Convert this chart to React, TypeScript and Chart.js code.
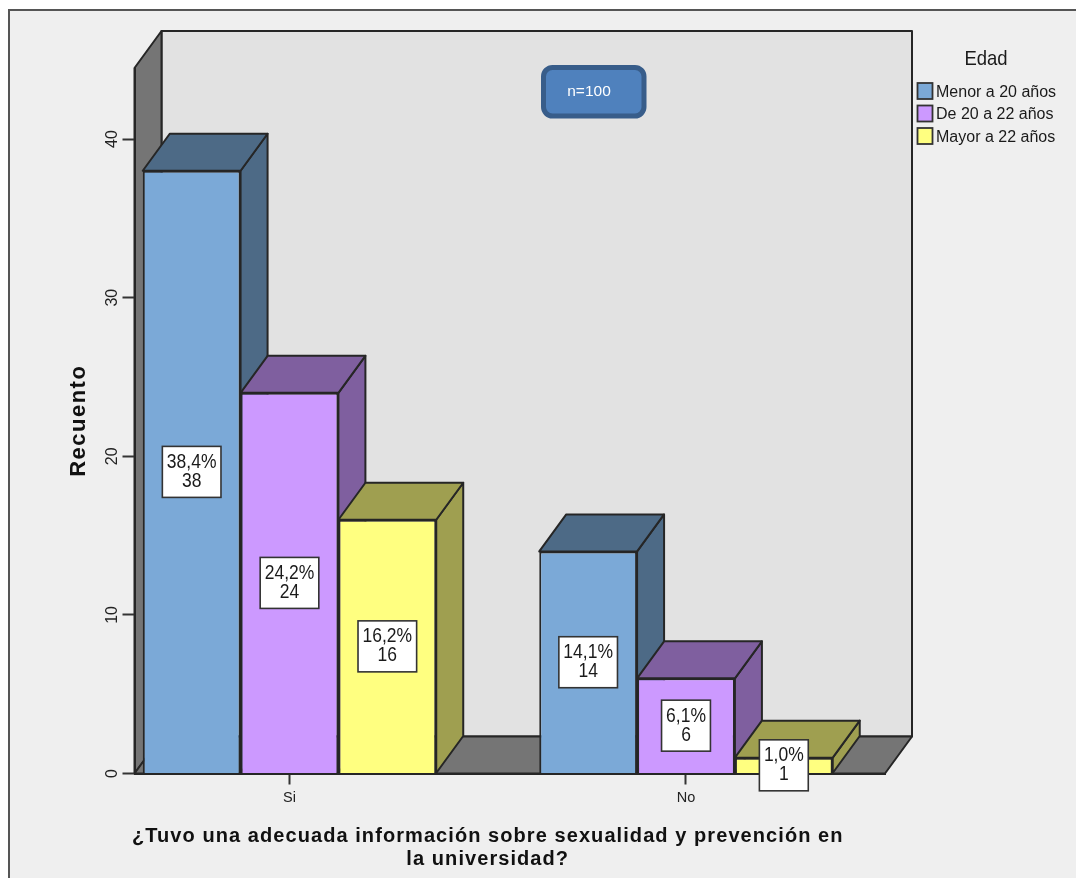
import React, { useEffect, useRef } from "react";
import { Chart, registerables } from "chart.js";

Chart.register(...registerables);

// Survey counts by answer and age group.
const categories = ["Si", "No"];
const categoryPositions = [0, 1];
const seriesNames = ["Menor a 20 años", "De 20 a 22 años", "Mayor a 22 años"];
const menorA20 = [38, 14];
const de20a22 = [24, 6];
const mayorA22 = [16, 1];
const menorA20Pct = ["38,4%", "14,1%"];
const de20a22Pct = ["24,2%", "6,1%"];
const mayorA22Pct = ["16,2%", "1,0%"];
const yTicks = [0, 10, 20, 30, 40];
const yTitle = "Recuento";
const xTitleLines = [
  "¿Tuvo una adecuada información sobre sexualidad y prevención en",
  "la universidad?",
];
const legendTitle = "Edad";
const noteText = "n=100";

// Face colours: front, and the darker top/side of each block.
const fronts = ["#7ba9d7", "#cc99ff", "#ffff80"];
const shades = ["#4d6a86", "#7f5f9f", "#9f9f50"];
const seriesValues = [menorA20, de20a22, mayorA22];
const seriesPct = [menorA20Pct, de20a22Pct, mayorA22Pct];

const INK = "#262626";
const PANEL = "#efefef";
const WALL = "#e2e2e2";
const SIDE = "#757575";
const DX = 27;
const DY = 37;
const FONT = "'Liberation Sans', Arial, sans-serif";

function poly(ctx: CanvasRenderingContext2D, pts: number[][], fill: string) {
  ctx.beginPath();
  pts.forEach(([x, y], i) => (i ? ctx.lineTo(x, y) : ctx.moveTo(x, y)));
  ctx.closePath();
  ctx.fillStyle = fill;
  ctx.fill();
  ctx.lineWidth = 2;
  ctx.strokeStyle = INK;
  ctx.lineJoin = "round";
  ctx.stroke();
}

// Text drawn slightly taller than the font's natural proportions.
function tallText(ctx: CanvasRenderingContext2D, text: string, x: number, y: number, stretch: number) {
  ctx.save();
  ctx.translate(x, y);
  ctx.scale(1, stretch);
  ctx.fillText(text, 0, 0);
  ctx.restore();
}

// Panel, frame and the three walls of the box behind the bars.
const roomPlugin = {
  id: "room",
  beforeDraw(chart: any) {
    const { ctx, chartArea: a } = chart;
    ctx.save();
    ctx.fillStyle = "#ffffff";
    ctx.fillRect(0, 0, chart.width, chart.height);
    ctx.fillStyle = PANEL;
    ctx.fillRect(9, 10, chart.width, chart.height);
    ctx.strokeStyle = "#555555";
    ctx.lineWidth = 2;
    ctx.beginPath();
    ctx.moveTo(9, chart.height);
    ctx.lineTo(9, 10);
    ctx.lineTo(chart.width, 10);
    ctx.stroke();

    poly(ctx, [[a.left + DX, a.top - DY], [a.right + DX, a.top - DY], [a.right + DX, a.bottom - DY], [a.left + DX, a.bottom - DY]], WALL);
    poly(ctx, [[a.left, a.top], [a.left + DX, a.top - DY], [a.left + DX, a.bottom - DY], [a.left, a.bottom]], SIDE);
    poly(ctx, [[a.left, a.bottom], [a.left + DX, a.bottom - DY], [a.right + DX, a.bottom - DY], [a.right, a.bottom]], SIDE);
    ctx.restore();
  },
};

// Top and side faces of each block, taken from the bar elements.
const depthPlugin = {
  id: "depth",
  beforeDatasetsDraw(chart: any) {
    const { ctx } = chart;
    ctx.save();
    chart.data.datasets.forEach((_: any, d: number) => {
      chart.getDatasetMeta(d).data.forEach((bar: any) => {
        const l = bar.x - bar.width / 2;
        const r = bar.x + bar.width / 2;
        poly(ctx, [[r, bar.y], [r + DX, bar.y - DY], [r + DX, bar.base - DY], [r, bar.base]], shades[d]);
        poly(ctx, [[l, bar.y], [l + DX, bar.y - DY], [r + DX, bar.y - DY], [r, bar.y]], shades[d]);
      });
    });
    ctx.restore();
  },
};

// Percentage and count boxes, the note, the legend and the axis titles.
const annotationPlugin = {
  id: "annotations",
  afterDatasetsDraw(chart: any) {
    const { ctx } = chart;
    ctx.save();
    ctx.textAlign = "center";
    ctx.textBaseline = "middle";
    ctx.font = `17.5px ${FONT}`;
    chart.data.datasets.forEach((ds: any, d: number) => {
      chart.getDatasetMeta(d).data.forEach((bar: any, i: number) => {
        const cx = bar.x;
        const cy = (bar.y + bar.base) / 2;
        const pct = seriesPct[d][i];
        const w = ctx.measureText(pct).width + 9;
        const h = 51;
        ctx.fillStyle = "#ffffff";
        ctx.strokeStyle = "#333333";
        ctx.lineWidth = 1.6;
        ctx.fillRect(cx - w / 2, cy - h / 2, w, h);
        ctx.strokeRect(cx - w / 2, cy - h / 2, w, h);
        ctx.fillStyle = "#1a1a1a";
        tallText(ctx, pct, cx, cy - 9.5, 1.12);
        tallText(ctx, String(ds.data[i].y), cx, cy + 9.5, 1.12);
      });
    });
    ctx.restore();
  },
  afterDraw(chart: any) {
    const { ctx, chartArea: a } = chart;
    ctx.save();

    // Note badge
    ctx.beginPath();
    ctx.roundRect(543.5, 67.5, 100.5, 48.5, 9);
    ctx.fillStyle = "#4f81bd";
    ctx.fill();
    ctx.lineWidth = 5;
    ctx.strokeStyle = "#385d8a";
    ctx.stroke();
    ctx.fillStyle = "#ffffff";
    ctx.textAlign = "center";
    ctx.textBaseline = "middle";
    ctx.font = `15.5px ${FONT}`;
    ctx.fillText(noteText, 589, 91.5);

    // Legend
    ctx.font = `18.5px ${FONT}`;
    ctx.fillStyle = "#1a1a1a";
    tallText(ctx, legendTitle, 986, 59, 1.1);
    ctx.textAlign = "left";
    ctx.font = `16px ${FONT}`;
    chart.data.datasets.forEach((ds: any, d: number) => {
      const y = 91 + d * 22.5;
      ctx.fillStyle = ds.backgroundColor;
      ctx.strokeStyle = "#333333";
      ctx.lineWidth = 1.8;
      ctx.fillRect(917.5, y - 8, 15, 16);
      ctx.strokeRect(917.5, y - 8, 15, 16);
      ctx.fillStyle = "#1a1a1a";
      ctx.fillText(ds.label, 936, y + 1.5);
    });

    // Category axis title, centred on the span of both groups
    const xs = chart.scales.x;
    const mid = (xs.getPixelForValue(categoryPositions[0]) + xs.getPixelForValue(categoryPositions[1])) / 2;
    ctx.textAlign = "center";
    ctx.font = `bold 20px ${FONT}`;
    ctx.letterSpacing = "1.07px";
    ctx.fillStyle = "#111111";
    xTitleLines.forEach((line, i) => ctx.fillText(line, mid, a.bottom + 62.5 + i * 23.5));

    // Value axis title, reading upwards
    ctx.save();
    ctx.translate(85, (a.top + a.bottom) / 2);
    ctx.rotate(-Math.PI / 2);
    ctx.textBaseline = "alphabetic";
    ctx.font = `bold 22px ${FONT}`;
    ctx.letterSpacing = "1.5px";
    ctx.fillText(yTitle, 0, 0);
    ctx.restore();
    ctx.restore();
  },
};

export default function App() {
  const ref = useRef<HTMLCanvasElement | null>(null);

  useEffect(() => {
    const chart = new Chart(ref.current as HTMLCanvasElement, {
      type: "bar",
      data: {
        datasets: seriesNames.map((label, d) => ({
          label,
          data: categoryPositions.map((x, i) => ({ x, y: seriesValues[d][i] })),
          backgroundColor: fronts[d],
          borderColor: INK,
          borderWidth: 2,
          categoryPercentage: 0.7402,
          barPercentage: 1,
        })),
      },
      options: {
        animation: false,
        responsive: false,
        events: [],
        layout: { padding: { left: 0, top: 68, right: 191, bottom: 0 } },
        plugins: { legend: { display: false }, tooltip: { enabled: false } },
        scales: {
          x: {
            type: "linear",
            min: -0.3909,
            max: 1.5019,
            bounds: "data",
            offset: false,
            grid: { offset: false, drawOnChartArea: false, tickLength: 11, tickWidth: 2, tickColor: "#333333" },
            border: { color: INK, width: 2 },
            afterBuildTicks: (s: any) => {
              s.ticks = categoryPositions.map((value) => ({ value }));
            },
            afterFit: (s: any) => {
              s.height = 104.5;
            },
            ticks: {
              autoSkip: false,
              maxRotation: 0,
              padding: 5,
              color: "#222222",
              font: { family: FONT, size: 14.5 },
              callback: (v: any) => categories[v],
            },
          },
          y: {
            min: 0,
            max: 44.48,
            afterBuildTicks: (s: any) => {
              s.ticks = yTicks.map((value) => ({ value }));
            },
            afterFit: (s: any) => {
              s.width = 134.5;
            },
            grid: { drawOnChartArea: false, tickLength: 12, tickWidth: 2, tickColor: "#333333" },
            border: { color: INK, width: 2 },
            ticks: {
              minRotation: 90,
              maxRotation: 90,
              crossAlign: "center",
              padding: 1,
              color: "#222222",
              font: { family: FONT, size: 16 },
            },
          },
        },
      },
      plugins: [roomPlugin, depthPlugin, annotationPlugin],
    } as any);
    return () => chart.destroy();
  }, []);

  return (
    <canvas
      ref={ref}
      width={1076}
      height={878}
      style={{ position: "absolute", left: 0, top: 0, display: "block" }}
    />
  );
}
